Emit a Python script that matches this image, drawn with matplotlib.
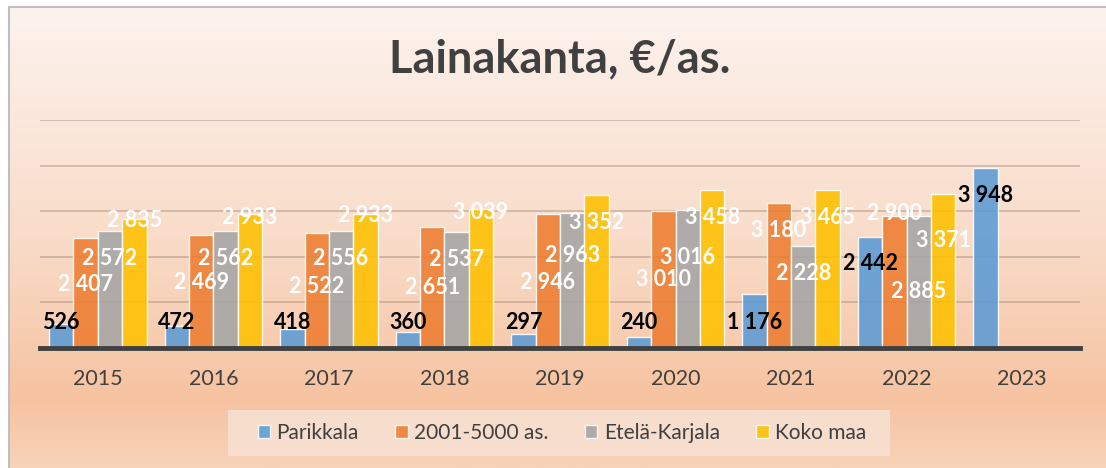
import numpy as np
import matplotlib
matplotlib.use("Agg")
import matplotlib.pyplot as plt
from matplotlib.colors import LinearSegmentedColormap
from matplotlib.patches import Rectangle

plt.rcParams['font.family'] = ['Lato', 'DejaVu Sans']

years = ["2015", "2016", "2017", "2018", "2019", "2020", "2021", "2022", "2023"]
series_names = ["Parikkala", "2001-5000 as.", "Etelä-Karjala", "Koko maa"]
parikkala = [526, 472, 418, 360, 297, 240, 1176, 2442, 3948]
kunnat_2001_5000 = [2407, 2469, 2522, 2651, 2946, 3010, 3180, 2900, None]
etela_karjala = [2572, 2562, 2556, 2537, 2963, 3016, 2228, 2885, None]
koko_maa = [2835, 2933, 2933, 3039, 3352, 3458, 3465, 3371, None]

# manually placed data-label heights (annotation positions, in value units)
label_y_parikkala = [550, 550, 550, 550, 550, 550, 550, 1850, 3340]
label_y_2001 = [1390, 1430, 1350, 1320, 1430, 1495, 2570, 2945, None]
label_y_ek = [1960, 1960, 1960, 1935, 2020, 1980, 1625, 1230, None]
label_y_koko = [2790, 2860, 2900, 2970, 2750, 2860, 2860, 2350, None]

colors = ["#5B9BD5", "#ED7D31", "#A5A5A5", "#FFC000"]
label_colors = ["black", "white", "white", "white"]

W, H = 1106, 468
fig = plt.figure(figsize=(W / 100, H / 100), dpi=100)
fig.patch.set_facecolor("white")

# background gradient panel
bg = fig.add_axes([9 / W, 0, 1 - 9 / W, 1 - 7 / H])
cmap = LinearSegmentedColormap.from_list(
    "bg", [(0.0, "#FDF3EE"), (0.5, "#F9DCC9"), (0.85, "#F6C3A1"), (1.0, "#F8D3B9")])
grad = np.linspace(0, 1, 256).reshape(-1, 1)
bg.imshow(grad, aspect="auto", cmap=cmap, extent=[0, 1, 0, 1], origin="upper")
bg.set_xlim(0, 1)
bg.set_ylim(0, 1)
bg.set_xticks([])
bg.set_yticks([])
for s in ["top", "left"]:
    bg.spines[s].set_color("#BFBFBF")
    bg.spines[s].set_linewidth(1.5)
for s in ["bottom", "right"]:
    bg.spines[s].set_visible(False)

ax = fig.add_axes([40 / W, 1 - 348 / H, 1040 / W, 228 / H])
ax.patch.set_alpha(0)
n = len(years)
x = np.arange(n)
bw = 0.211
all_series = [parikkala, kunnat_2001_5000, etela_karjala, koko_maa]
all_label_y = [label_y_parikkala, label_y_2001, label_y_ek, label_y_koko]
for i, (vals, ly) in enumerate(zip(all_series, all_label_y)):
    offs = (i - 1.5) * bw
    xs = [xi + offs for xi, v in zip(x, vals) if v is not None]
    vs = [v for v in vals if v is not None]
    ax.bar(xs, vs, width=bw, color=colors[i], alpha=0.88, edgecolor=(1, 1, 1, 0.6),
           linewidth=1.0, label=series_names[i], zorder=3)
    for xi, v, yy in zip(x, vals, ly):
        if v is None:
            continue
        txt = f"{v:,}".replace(",", " ")
        ax.text(xi + offs, yy, txt, ha="center", va="center", fontsize=15.5,
                fontweight="bold", color=label_colors[i], zorder=5)

ax.set_xlim(-0.5, n - 0.5)
ax.set_ylim(0, 5000)
ax.set_yticks([1000, 2000, 3000, 4000, 5000])
ax.yaxis.grid(True, color="#8C7462", alpha=0.35, linewidth=1.4, zorder=0)
ax.tick_params(axis="y", length=0, labelleft=False)
ax.set_xticks(x)
ax.set_xticklabels(years, fontsize=15.5, color="#404040")
ax.tick_params(axis="x", length=0, pad=15)
for s in ["top", "left", "right"]:
    ax.spines[s].set_visible(False)
ax.spines["bottom"].set_color("#404040")
ax.spines["bottom"].set_linewidth(3.5)
ax.spines["bottom"].set_zorder(6)

fig.text(560 / W, 1 - 59 / H, "Lainakanta, €/as.", ha="center", va="center",
         fontsize=32.5, fontweight="bold", color="#404040")

# legend background panel
fig.patches.append(Rectangle((228 / W, 1 - 456 / H), 662 / W, 46 / H,
                             transform=fig.transFigure, facecolor="#F7E1D3",
                             alpha=0.85, edgecolor="none", zorder=1))
leg = fig.legend(loc="center", bbox_to_anchor=(562 / W, 1 - 433 / H), ncol=4,
                 frameon=False, fontsize=15, handlelength=0.6, handleheight=0.6,
                 handletextpad=0.3, columnspacing=1.75, borderpad=0.5)
for t in leg.get_texts():
    t.set_color("#404040")

fig.savefig("out.png", dpi=100)
